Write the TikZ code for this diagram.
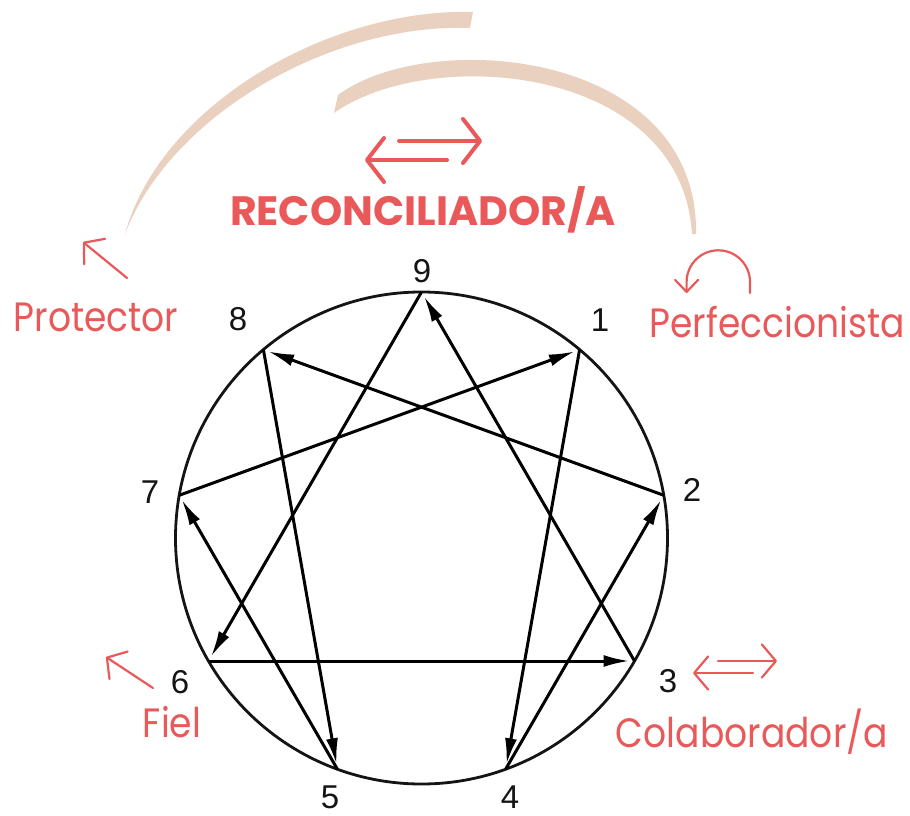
\documentclass[tikz,border=0pt]{standalone}
\usepackage{fontspec}
\usetikzlibrary{arrows.meta}
\newfontfamily\labelfont{Poppins}[FakeStretch=0.88]
\newfontfamily\titlefont{Poppins}
\newfontfamily\numfont{Liberation Sans}
\begin{document}
\begin{tikzpicture}[x=1pt,y=-1pt,
    enn/.style={line width=3pt, -{Latex[length=26pt,width=12pt]}, shorten >=5pt},
    redarrow/.style={draw=rougeE, line width=2.2pt, line cap=round, -{Straight Barb[round,length=14pt,width=33pt]}},
    bigarrow/.style={draw=rougeE, line width=4pt, line cap=round, -{Straight Barb[round,length=17pt,width=44pt]}},
    num/.style={inner sep=0pt, text=noirE, font=\numfont\fontsize{33}{33}\selectfont},
    lab/.style={inner sep=0pt, anchor=base, text=rougeE, font=\labelfont\fontsize{41}{41}\selectfont}]
        \definecolor{rougeE}{RGB}{233, 89, 89}
        \definecolor{sableE}{RGB}{234, 208, 191}
        \definecolor{noirE}{RGB}{20, 20, 20}
        \useasboundingbox (0,0) rectangle (910,816);
        \fill[sableE] (125,234) .. controls (160,106) and (328,8) .. (473,12) -- (470,28) .. controls (330,23) and (170,116) .. (125,234) -- cycle;
        \fill[sableE] (338,95) .. controls (430,27) and (699,50) .. (696,234) -- (692,234) .. controls (682,66) and (432,44) .. (334,113) -- cycle;
        \coordinate (p9) at (421.5,292);
        \coordinate (p1) at (579.6,349.6);
        \coordinate (p2) at (663.8,495.3);
        \coordinate (p3) at (634.5,661);
        \coordinate (p4) at (505.6,769.2);
        \coordinate (p5) at (337.4,769.2);
        \coordinate (p6) at (208.5,661);
        \coordinate (p7) at (179.2,495.3);
        \coordinate (p8) at (263.4,349.6);
        \draw[line width=2.8pt, noirE] (421.5,538) circle (246);
        \draw[enn] (p1) -- (p4);
        \draw[enn] (p4) -- (p2);
        \draw[enn] (p2) -- (p8);
        \draw[enn] (p8) -- (p5);
        \draw[enn] (p5) -- (p7);
        \draw[enn] (p7) -- (p1);
        \draw[enn] (p9) -- (p6);
        \draw[enn] (p6) -- (p3);
        \draw[enn] (p3) -- (p9);
        \node[num] (n9) at (422,271) {9};
        \node[num] (n1) at (600,320) {1};
        \node[num] (n2) at (692,490) {2};
        \node[num] (n3) at (668,681) {3};
        \node[num] (n4) at (510,797) {4};
        \node[num] (n5) at (330,797) {5};
        \node[num] (n6) at (180,682) {6};
        \node[num] (n7) at (150,492) {7};
        \node[num] (n8) at (238,319) {8};
        \node[lab, font=\titlefont\bfseries\fontsize{41}{41}\selectfont] (reconc) at (423,225) {RECONCILIADOR/A};
        \node[lab] (protec) at (96,331) {Protector};
        \node[lab] (perfec) at (777,337) {Perfeccionista};
        \node[lab] (fiel) at (172,737) {Fiel};
        \node[lab] (colab) at (752,747) {Colaborador/a};
        \coordinate (r1) at (399,141);
        \coordinate (r2) at (482,141);
        \coordinate (r3) at (447,160);
        \coordinate (r4) at (365,160);
        \draw[bigarrow] (r1) -- (r2);
        \draw[bigarrow] (r3) -- (r4);
        \draw[redarrow] (127,278) -- (83,242);
        \draw[redarrow] (153,688) -- (106,657);
        \draw[redarrow] (718,661) -- (777,661);
        \draw[redarrow] (753,673) -- (693,673);
        \draw[redarrow, -{Straight Barb[round,length=12pt,width=23pt]}] (750,293) -- (750,282) arc (0:-180:31.7) -- (686.6,293);
    \end{tikzpicture}
\end{document}
